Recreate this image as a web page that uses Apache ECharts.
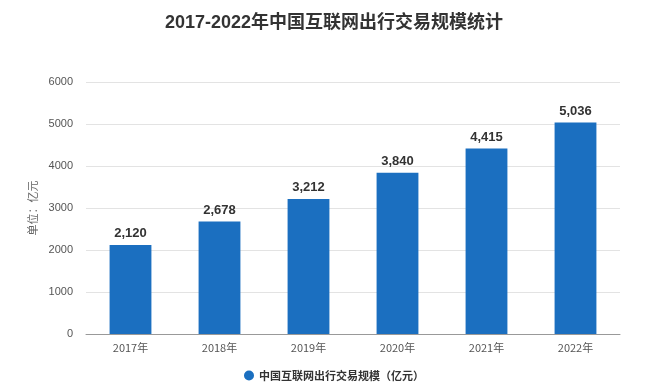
<!DOCTYPE html>
<html><head><meta charset="utf-8">
<script src="https://cdn.jsdelivr.net/npm/echarts@6/dist/echarts.min.js"></script>
<style>html,body{margin:0;padding:0;background:#fff}#c{width:668px;height:389px}</style>
</head><body><div id="c"></div>
<script>
const categories = ['2017年','2018年','2019年','2020年','2021年','2022年'];
const values = [2120, 2678, 3212, 3840, 4415, 5036];
const seriesName = '中国互联网出行交易规模（亿元）';
const titleText = '2017-2022年中国互联网出行交易规模统计';
const yName = '单位：亿元';
const yTicks = {min: 0, max: 6000, interval: 1000};

const chart = echarts.init(document.getElementById('c'));
chart.setOption({
  animation: false,
  backgroundColor: '#fff',
  title: {text: titleText, left: 'center', top: 9,
    textStyle: {fontSize: 18, fontWeight: 'bold', color: '#333', fontFamily: 'Liberation Sans, Noto Sans CJK SC'}},
  legend: {bottom: 3, left: 'center', icon: 'circle', itemWidth: 10, itemHeight: 10,
    textStyle: {fontSize: 11, fontWeight: 'bold', color: '#333', fontFamily: 'Noto Sans CJK SC'}},
  grid: {left: 86, right: 48, top: 82, bottom: 55},
  xAxis: {type: 'category', data: categories,
    axisLine: {lineStyle: {color: '#999'}},
    axisTick: {alignWithLabel: true, lineStyle: {color: '#999'}},
    axisLabel: {color: '#555', fontSize: 11, margin: 8, fontFamily: 'Noto Sans CJK SC'}},
  yAxis: {type: 'value', min: yTicks.min, max: yTicks.max, interval: yTicks.interval,
    name: yName, nameLocation: 'middle', nameGap: 48, nameRotate: 90, nameMoveOverlap: false,
    nameTextStyle: {color: '#666', fontSize: 11, fontFamily: 'Noto Sans CJK SC'},
    axisLine: {show: false}, axisTick: {show: false},
    axisLabel: {color: '#555', fontSize: 11, margin: 13, formatter: v => String(v)},
    splitLine: {lineStyle: {color: '#e3e3e3'}}},
  series: [{name: seriesName, type: 'bar', data: values, barWidth: '47%',
    itemStyle: {color: '#1b6fc0'},
    label: {show: true, position: 'top', color: '#333', fontWeight: 'bold', fontSize: 13,
      formatter: p => p.value.toLocaleString('en-US')}}]
});
</script></body></html>
